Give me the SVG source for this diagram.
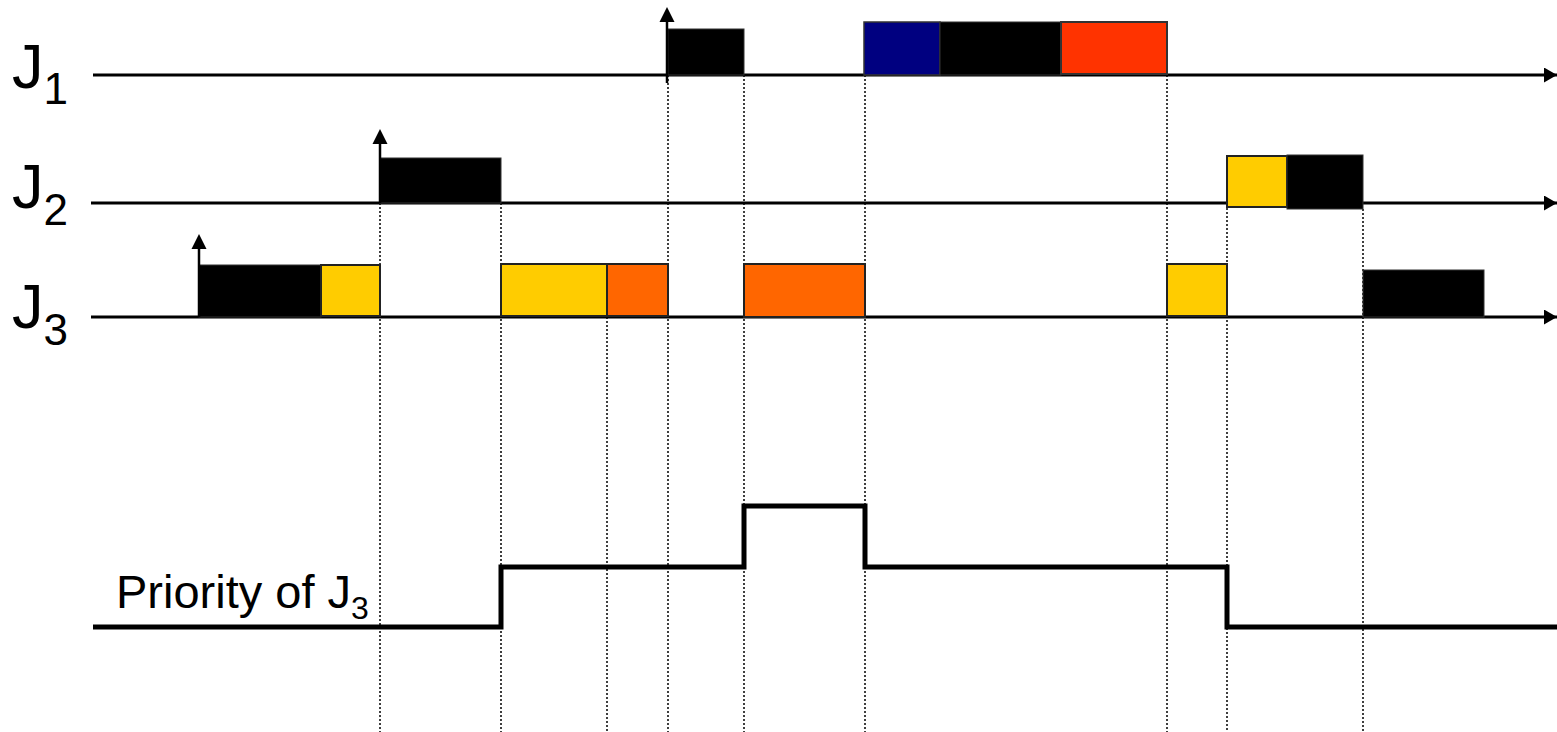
<svg xmlns="http://www.w3.org/2000/svg" width="1557" height="732" viewBox="0 0 1557 732">
<style>
.lbl{font-family:"Liberation Sans",Arial,sans-serif;fill:#000}
.axis{stroke:#000;stroke-width:3;fill:none}
.dot{stroke:#000;stroke-width:1.5;stroke-dasharray:2,2;fill:none}
.rel{stroke:#000;stroke-width:2.5;fill:none}
.head{fill:#000}
.blk{fill:#000;stroke:#333;stroke-width:1}
.yel{fill:#FFCC00;stroke:#222;stroke-width:2}
.org{fill:#FF6600;stroke:#222;stroke-width:2}
.red{fill:#FF3300;stroke:#333;stroke-width:2}
.blu{fill:#000080;stroke:#333;stroke-width:1.5}
.prio{stroke:#000;stroke-width:5;fill:none;stroke-linejoin:miter}
</style>
<defs>
<marker id="ah" markerWidth="13" markerHeight="15" refX="13" refY="7.5" orient="auto" markerUnits="userSpaceOnUse">
<path d="M0,0 L13,7.5 L0,15 Z" fill="#000"/>
</marker>
</defs>
<rect width="1557" height="732" fill="#fff"/>
<g id="guides">
<line class="dot" x1="380" y1="203" x2="380" y2="732"/>
<line class="dot" x1="501" y1="203" x2="501" y2="732"/>
<line class="dot" x1="607" y1="317" x2="607" y2="732"/>
<line class="dot" x1="668" y1="75" x2="668" y2="732"/>
<line class="dot" x1="744" y1="75" x2="744" y2="732"/>
<line class="dot" x1="865" y1="75" x2="865" y2="732"/>
<line class="dot" x1="1167" y1="75" x2="1167" y2="732"/>
<line class="dot" x1="1227" y1="208" x2="1227" y2="732"/>
<line class="dot" x1="1363" y1="209" x2="1363" y2="732"/>
</g>
<g id="axes">
<line class="axis" x1="93" y1="75" x2="1557" y2="75" marker-end="url(#ah)"/>
<line class="axis" x1="91" y1="203" x2="1557" y2="203" marker-end="url(#ah)"/>
<line class="axis" x1="91" y1="317" x2="1557" y2="317" marker-end="url(#ah)"/>
</g>
<g id="labels">
<text class="lbl" x="12" y="88" font-size="63">J<tspan font-size="44" dy="16">1</tspan></text>
<text class="lbl" x="12" y="208" font-size="63">J<tspan font-size="44" dy="17">2</tspan></text>
<text class="lbl" x="12" y="328" font-size="63">J<tspan font-size="44" dy="17">3</tspan></text>
</g>
<g id="job1">
<rect class="blk" x="668" y="29" width="76" height="46"/>
<rect class="blu" x="864" y="22" width="76" height="53"/>
<rect class="blk" x="940" y="22" width="121" height="53"/>
<rect class="red" x="1061" y="22" width="106" height="52"/>
<line class="rel" x1="667" y1="83" x2="667" y2="20"/>
<polygon class="head" points="667,7 674.5,22 659.5,22"/>
</g>
<g id="job2">
<rect class="blk" x="380" y="158" width="121" height="45"/>
<rect class="yel" x="1227" y="156" width="60" height="51"/>
<rect class="blk" x="1287" y="155" width="76" height="54"/>
<line class="rel" x1="380" y1="203" x2="380" y2="143"/>
<polygon class="head" points="380,129 387.5,144 372.5,144"/>
</g>
<g id="job3">
<rect class="blk" x="199" y="265" width="122" height="52"/>
<rect class="yel" x="321" y="265" width="59" height="51"/>
<rect class="yel" x="501" y="264" width="106" height="52"/>
<rect class="org" x="607" y="264" width="61" height="52"/>
<rect class="org" x="744" y="264" width="121" height="53"/>
<rect class="yel" x="1167" y="264" width="60" height="52"/>
<rect class="blk" x="1363" y="270" width="121" height="47"/>
<line class="rel" x1="199" y1="317" x2="199" y2="247"/>
<polygon class="head" points="199,234 206.5,249 191.5,249"/>
</g>
<g id="priority">
<path class="prio" d="M93,627 H501 V567 H744 V506 H865 V567 H1227 V627 H1557"/>
<text class="lbl" x="116" y="608" font-size="47">Priority of J<tspan font-size="32" dy="11">3</tspan></text>
</g>
</svg>
